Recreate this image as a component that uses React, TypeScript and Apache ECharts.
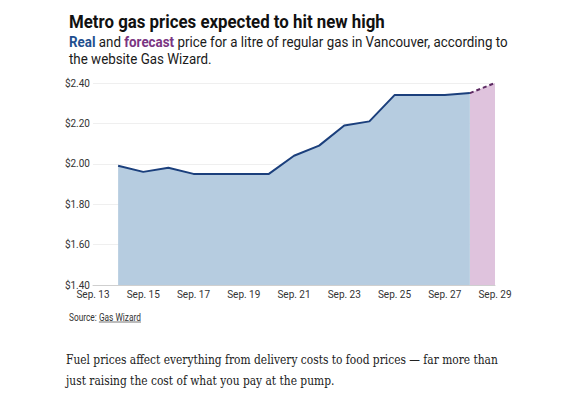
import React, { useEffect, useRef } from "react";
import * as echarts from "echarts";

const categories = ["Sep. 13", "Sep. 14", "Sep. 15", "Sep. 16", "Sep. 17", "Sep. 18", "Sep. 19", "Sep. 20", "Sep. 21", "Sep. 22", "Sep. 23", "Sep. 24", "Sep. 25", "Sep. 26", "Sep. 27", "Sep. 28", "Sep. 29"];
const realPrices: (number | null)[] = [null, 1.99, 1.96, 1.98, 1.95, 1.95, 1.95, 1.95, 2.04, 2.09, 2.19, 2.21, 2.34, 2.34, 2.34, 2.35, null];
const forecastPrices: (number | null)[] = [null, null, null, null, null, null, null, null, null, null, null, null, null, null, null, 2.35, 2.4];

const titleText = "Metro gas prices expected to hit new high";
const subReal = "Real";
const subAnd = " and ";
const subForecast = "forecast";
const subRest = " price for a litre of regular gas in Vancouver, according to";
const subLine2 = "the website Gas Wizard.";
const sourceLabel = "Source: ";
const sourceName = "Gas Wizard";
const para1 = "Fuel prices affect everything from delivery costs to food prices \u2014 far more than";
const para2 = "just raising the cost of what you pay at the pump.";

function measure(text: string, font: string): number {
  const c = document.createElement("canvas");
  const ctx = c.getContext("2d");
  if (!ctx) return text.length * 7;
  ctx.font = font;
  return ctx.measureText(text).width;
}

export default function App() {
  const ref = useRef<HTMLDivElement>(null);
  useEffect(() => {
    if (!ref.current) return;
    const chart = echarts.init(ref.current, undefined, { renderer: "svg" });

    const sans = "Roboto";
    const titleSize = 18;
    const titleW = measure(titleText, `bold ${titleSize}px ${sans}`);
    const titleScale = 316 / titleW;

    const subSize = 14;
    const wReal = measure(subReal, `bold ${subSize}px ${sans}`);
    const wAnd = measure(subAnd, `${subSize}px ${sans}`);
    const wFc = measure(subForecast, `bold ${subSize}px ${sans}`);
    const wRest = measure(subRest, `${subSize}px ${sans}`);
    const subScale = 439 / (wReal + wAnd + wFc + wRest);

    const srcSize = 10.5;
    const wSrc = measure(sourceLabel, `${srcSize}px ${sans}`);
    const wName = measure(sourceName, `${srcSize}px ${sans}`);
    const srcScale = 72 / (wSrc + wName);

    const serif = "'DejaVu Serif', 'Liberation Serif', serif";
    const paraSize = 13.5;
    const wPara = measure(para1, `${paraSize}px ${serif}`);
    const paraScale = 432 / wPara;

    chart.setOption({
      animation: false,
      backgroundColor: "#ffffff",
      grid: { left: 93, right: 91, top: 83, bottom: 113 },
      xAxis: {
        type: "category",
        data: categories,
        boundaryGap: false,
        axisLine: { show: true, lineStyle: { color: "#cfcfcf", width: 1 } },
        axisTick: { show: false },
        axisLabel: { interval: 1, color: "#333", fontFamily: sans, fontSize: 10, margin: 4 },
        splitLine: { show: false },
      },
      yAxis: {
        type: "value",
        min: 1.4,
        max: 2.4,
        interval: 0.2,
        axisLine: { show: false },
        axisTick: { show: false },
        axisLabel: {
          color: "#333",
          fontFamily: sans,
          fontSize: 10,
          margin: 3,
          formatter: (v: number) => "$" + v.toFixed(2),
        },
        splitLine: { lineStyle: { color: "#efefef", width: 1 } },
      },
      series: [
        {
          type: "line",
          data: realPrices,
          symbol: "none",
          lineStyle: { color: "#1b3f7c", width: 2 },
          areaStyle: { color: "#b6cce0", opacity: 1 },
          z: 3,
        },
        {
          type: "line",
          data: forecastPrices,
          symbol: "none",
          lineStyle: { color: "#5c2a62", width: 2, type: [4, 3] },
          areaStyle: { color: "#dfc3dd", opacity: 1 },
          z: 2,
        },
      ],
      graphic: [
        {
          type: "text",
          x: 69,
          y: 22,
          scaleX: titleScale,
          style: {
            text: titleText,
            font: `bold ${titleSize}px ${sans}`,
            fill: "#111",
            verticalAlign: "middle",
          },
        },
        {
          type: "text",
          x: 69,
          y: 42,
          scaleX: subScale,
          style: {
            text: `{r|${subReal}}{n|${subAnd}}{f|${subForecast}}{n|${subRest}}`,
            verticalAlign: "middle",
            rich: {
              r: { fontFamily: sans, fontWeight: "bold", fontSize: subSize, fill: "#1f4f8f" },
              f: { fontFamily: sans, fontWeight: "bold", fontSize: subSize, fill: "#7a3582" },
              n: { fontFamily: sans, fontSize: subSize, fill: "#1a1a1a" },
            },
          },
        },
        {
          type: "text",
          x: 69,
          y: 59,
          scaleX: subScale,
          style: {
            text: subLine2,
            font: `${subSize}px ${sans}`,
            fill: "#1a1a1a",
            verticalAlign: "middle",
          },
        },
        {
          type: "text",
          x: 69,
          y: 317,
          scaleX: srcScale,
          style: {
            text: `{a|${sourceLabel}}{b|${sourceName}}`,
            verticalAlign: "middle",
            rich: {
              a: { fontFamily: sans, fontSize: srcSize, fill: "#333" },
              b: { fontFamily: sans, fontSize: srcSize, fill: "#333" },
            },
          },
        },
        {
          type: "line",
          shape: {
            x1: 69 + wSrc * srcScale,
            y1: 322,
            x2: 69 + (wSrc + wName) * srcScale,
            y2: 322,
          },
          style: { stroke: "#555", lineWidth: 0.8 },
        },
        {
          type: "text",
          x: 66,
          y: 360,
          scaleX: paraScale,
          style: {
            text: para1,
            font: `${paraSize}px ${serif}`,
            fill: "#222",
            verticalAlign: "middle",
          },
        },
        {
          type: "text",
          x: 66,
          y: 381,
          scaleX: paraScale,
          style: {
            text: para2,
            font: `${paraSize}px ${serif}`,
            fill: "#222",
            verticalAlign: "middle",
          },
        },
      ],
    });
    return () => chart.dispose();
  }, []);
  return (
    <div
      ref={ref}
      style={{ position: "fixed", left: 0, top: 0, width: 586, height: 398 }}
    />
  );
}
